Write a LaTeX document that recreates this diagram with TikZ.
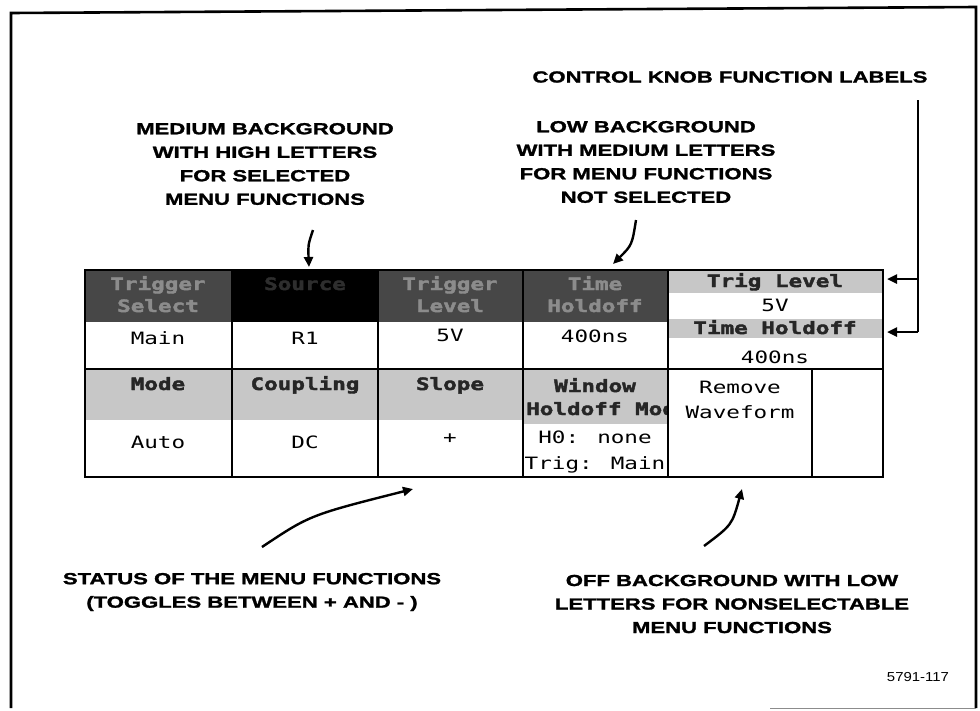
\documentclass[tikz,border=0pt]{standalone}
\usepackage{fontspec}
\setmainfont{Liberation Sans}
\usetikzlibrary{arrows.meta}
\newfontfamily\callfont{Liberation Sans}[FakeStretch=1.38, BoldFeatures={FakeBold=1.6}]
\newfontfamily\labfont{DejaVu Sans Mono}[FakeStretch=1.33, BoldFeatures={FakeBold=2.5}]
\newfontfamily\scrfont{DejaVu Sans Mono}[FakeStretch=1.33]
\newfontfamily\numfont{Liberation Sans}[FakeStretch=1.15]
\tikzset{
  callout/.style={font=\callfont\bfseries\fontsize{16}{23.5}\selectfont, align=center, inner sep=0pt},
  scr/.style={font=\scrfont\fontsize{17}{24}\selectfont, inner sep=0pt, text height=12pt, text depth=0pt},
  arr/.style={line width=2.4pt, -{Triangle[length=10pt,width=9pt]}},
  gridline/.style={line width=1.8pt},
  darkband/.style={fill=black!72, draw=none},
  blackband/.style={fill=black, draw=none},
  lightband/.style={fill=black!22, draw=none},
  dlabel/.style={font=\labfont\bfseries\fontsize{17}{20}\selectfont, text=black!45, inner sep=0pt, text height=12pt, text depth=0pt},
  llabel/.style={font=\labfont\bfseries\fontsize{17}{20}\selectfont, text=black!85, inner sep=0pt, text height=12pt, text depth=0pt},
  frameline/.style={line width=2.6pt},
}
\begin{document}
\begin{tikzpicture}[x=1pt, y=-1pt]
\useasboundingbox (0,0) rectangle (980,710);
% outer frame
\draw[frameline] (11,708) -- (11,13) -- (976,7) -- (976,708);
\draw[black!45, line width=0.8pt] (770,708) -- (976,708);

% ---- table bands ----
\fill[darkband] (85,270) rectangle (232,322);
\fill[blackband] (232,270) rectangle (378,322);
\fill[darkband] (378,270) rectangle (523,322);
\fill[darkband] (523,270) rectangle (668,322);
\fill[lightband] (668,270) rectangle (883,293);
\fill[lightband] (668,319) rectangle (883,338);
\fill[lightband] (85,369) rectangle (232,420);
\fill[lightband] (232,369) rectangle (378,420);
\fill[lightband] (378,369) rectangle (523,420);
\fill[lightband] (523,369) rectangle (668,424);

% band labels (barely legible in the reference)
\begin{scope}
\clip (85,270) rectangle (668,322);
\node[dlabel] (l1a) at (158,284) {Trigger};
\node[dlabel] (l1b) at (158,306) {Select};
\node[llabel, text=black!82] (l2a) at (305,284) {Source};
\node[dlabel] (l3a) at (450,284) {Trigger};
\node[dlabel] (l3b) at (450,306) {Level};
\node[dlabel] (l4a) at (595,284) {Time};
\node[dlabel] (l4b) at (595,306) {Holdoff};
\end{scope}
\begin{scope}
\clip (668,270) rectangle (883,369);
\node[llabel] (l5a) at (775,281) {Trig Level};
\node[llabel] (l5b) at (775,328) {Time Holdoff};
\end{scope}
\node[llabel] (m1) at (158,384) {Mode};
\node[llabel] (m2) at (305,384) {Coupling};
\node[llabel] (m3) at (450,384) {Slope};
\begin{scope}
\clip (523,369) rectangle (668,424);
\node[llabel] (m4a) at (595,386) {Window};
\node[llabel, anchor=west] (m4b) at (526,409) {Holdoff Mode};
\end{scope}

% ---- table grid ----
\draw[gridline] (85,270) rectangle (883,477);
\draw[gridline] (85,369) -- (883,369);
\foreach \xx in {232,378,523,668} \draw[gridline] (\xx,270) -- (\xx,477);
\draw[gridline] (812,369) -- (812,477);

% ---- cell values ----
\node[scr] (v1) at (158,338) {Main};
\node[scr] (v2) at (305,338) {R1};
\node[scr] (v3) at (450,335) {5V};
\node[scr] (v4) at (595,336) {400ns};
\node[scr] (v5a) at (775,305) {5V};
\node[scr] (v5b) at (775,357) {400ns};
\node[scr] (w1) at (158,442) {Auto};
\node[scr] (w2) at (305,442) {DC};
\node[scr] (w3) at (450,437) {+};
\node[scr] (w4a) at (595,437) {H0: none};
\node[scr] (w4b) at (595,463) {Trig: Main};
\node[scr] (w5a) at (740,387) {Remove};
\node[scr] (w5b) at (740,412) {Waveform};

% ---- callouts ----
\node[callout] (medtxt) at (265,164) {MEDIUM BACKGROUND\\WITH HIGH LETTERS\\FOR SELECTED\\MENU FUNCTIONS};
\node[callout] (lowtxt) at (646,162) {LOW BACKGROUND\\WITH MEDIUM LETTERS\\FOR MENU FUNCTIONS\\NOT SELECTED};
\node[callout] (knobtxt) at (730,77) {CONTROL KNOB FUNCTION LABELS};
\node[callout] (stattxt) at (252,592) {STATUS OF THE MENU FUNCTIONS\\(TOGGLES BETWEEN + AND - )};
\node[callout] (offtxt) at (732,604) {OFF BACKGROUND WITH LOW\\LETTERS FOR NONSELECTABLE\\MENU FUNCTIONS};
\node[font=\numfont\fontsize{13}{16}\selectfont, inner sep=0pt] (fig) at (918,677) {5791-117};

% ---- arrows ----
\coordinate (a1s) at (313,230);
\coordinate (a1e) at (309,267);
\draw[arr] (a1s) .. controls (308,245) .. (a1e);
\coordinate (a2s) at (636,220);
\coordinate (a2e) at (613,264);
\draw[arr] (a2s) .. controls (632,245) .. (a2e);
\coordinate (ktop) at (918,100);
\coordinate (kmid) at (918,279);
\coordinate (kbot) at (918,332);
\coordinate (ktipa) at (887,279);
\coordinate (ktipb) at (887,332);
\draw[line width=2.4pt] (ktop) -- (kbot);
\draw[arr] (kmid) -- (ktipa);
\draw[arr] (kbot) -- (ktipb);
\coordinate (a3s) at (262,547);
\coordinate (a3e) at (413,489);
\draw[arr] (a3s) .. controls (310,515) .. (a3e);
\coordinate (a4s) at (704,546);
\coordinate (a4e) at (742,489);
\draw[arr] (a4s) .. controls (732,525) .. (a4e);
\end{tikzpicture}
\end{document}
